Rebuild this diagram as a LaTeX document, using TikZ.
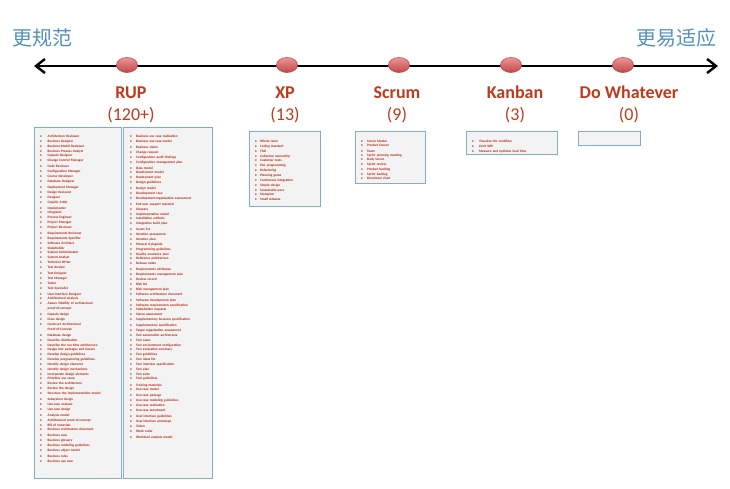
\documentclass[tikz,border=0pt]{standalone}
\usepackage{fontspec}
\setmainfont{Carlito}
\newfontfamily\cjk{Noto Sans CJK SC}
\usetikzlibrary{arrows.meta,shapes.geometric}
\definecolor{lblred}{RGB}{190,58,26}
\definecolor{listred}{RGB}{178,36,16}
\definecolor{cjkblue}{RGB}{84,144,186}
\definecolor{boxedge}{RGB}{128,174,200}
\definecolor{boxfill}{RGB}{243,243,243}
\definecolor{ellTop}{RGB}{238,150,150}
\definecolor{ellBot}{RGB}{196,68,68}
\definecolor{ellEdge}{RGB}{178,80,80}
\newlength\bsep
\setlength\bsep{7pt}
\newcommand\li[1]{\par\hangindent=\bsep\hangafter=1\noindent\makebox[\bsep][l]{\textbullet}#1}
\newcommand\gp{\par\vspace{1.2pt}}
\tikzset{
  stage/.style={ellipse, minimum width=21, minimum height=15, inner sep=0,
    top color=ellTop, bottom color=ellBot, draw=ellEdge, line width=0.6},
  mname/.style={anchor=base, inner sep=0, text=lblred, font=\fontsize{18}{20}\selectfont\bfseries},
  mcount/.style={anchor=base, inner sep=0, text=lblred, font=\fontsize{18}{20}\selectfont},
  listbox/.style={draw=boxedge, fill=boxfill, line width=1.3, anchor=north west, inner sep=0},
  listtext/.style={anchor=north west, inner sep=0, text=listred, font=\fontsize{3.4}{4.85}\selectfont\bfseries},
  pole/.style={inner sep=0, text=cjkblue, font=\fontsize{20}{24}\selectfont\cjk},
  axis/.style={line width=2.4, {Straight Barb[length=9, width=14]}-{Straight Barb[length=9, width=14]}}
}
\begin{document}
\begin{tikzpicture}[x=1pt, y=-1pt]
\useasboundingbox (0,0) rectangle (730,488);

% poles
\node[pole, anchor=base west] (more) at (12,45.5) {更规范};
\node[pole, anchor=base east] (less) at (717,45.5) {更易适应};

% axis
\coordinate (L) at (34,66);
\coordinate (R) at (718,66);
\draw[axis] (L) -- (R);

% stages
\node[stage] (e1) at (127,65) {};
\node[stage] (e2) at (287,65) {};
\node[stage] (e3) at (399,65) {};
\node[stage] (e4) at (511,65) {};
\node[stage] (e5) at (623,65) {};

% names and counts
\node[mname] (n1) at (131,98) {RUP};
\node[mcount] (c1) at (131,120) {(120+)};
\node[mname] (n2) at (285,98) {XP};
\node[mcount] (c2) at (285,120) {(13)};
\node[mname] (n3) at (397,98) {Scrum};
\node[mcount] (c3) at (397,120) {(9)};
\node[mname] (n4) at (515,98) {Kanban};
\node[mcount] (c4) at (515,120) {(3)};
\node[mname] (n5) at (629,98) {Do Whatever};
\node[mcount] (c5) at (629,120) {(0)};

% boxes
\node[listbox, minimum width=87, minimum height=351] (rupA) at (34,127) {};
\node[listbox, minimum width=89, minimum height=351] (rupB) at (123,127) {};
\node[listbox, minimum width=71, minimum height=75] (xpbox) at (249,131) {};
\node[listbox, minimum width=70, minimum height=52] (scbox) at (355,131) {};
\node[listbox, minimum width=91, minimum height=23] (kbbox) at (466,131) {};
\node[listbox, minimum width=62, minimum height=14] (dwbox) at (578,131) {};

% RUP left column
\node[listtext, text width=64] (rupAt) at (40,132.5) {\raggedright\setlength\bsep{7.5pt}%
\li{Architecture Reviewer}
\li{Business Designer}
\li{Business-Model Reviewer}
\li{Business Process Analyst}
\li{Capsule Designer}
\li{Change Control Manager}\gp
\li{Code Reviewer}
\li{Configuration Manager}
\li{Course Developer}
\li{Database Designer}\gp
\li{Deployment Manager}
\li{Design Reviewer}
\li{Designer}
\li{Graphic Artist}\gp
\li{Implementer}
\li{Integrator}
\li{Process Engineer}
\li{Project Manager}
\li{Project Reviewer}\gp
\li{Requirements Reviewer}
\li{Requirements Specifier}
\li{Software Architect}
\li{Stakeholder}
\li{System Administrator}
\li{System Analyst}
\li{Technical Writer}
\li{Test Analyst}\gp
\li{Test Designer}
\li{Test Manager}
\li{Tester}
\li{Tool Specialist}\gp
\li{User-Interface Designer}
\li{Architectural analysis}
\li{Assess Viability of architectural proof-of-concept}\gp
\li{Capsule design}
\li{Class design}
\li{Construct Architectural Proof-of-Concept}\gp
\li{Database design}
\li{Describe distribution}
\li{Describe the run-time architecture}
\li{Design test packages and classes}
\li{Develop design guidelines}
\li{Develop programming guidelines}
\li{Identify design elements}
\li{Identify design mechanisms}
\li{Incorporate design elements}
\li{Prioritize use cases}
\li{Review the architecture}
\li{Review the design}
\li{Structure the implementation model}\gp
\li{Subsystem design}
\li{Use-case analysis}
\li{Use-case design}\gp
\li{Analysis model}
\li{Architectural proof-of-concept}
\li{Bill of materials}
\li{Business architecture document}\gp
\li{Business case}
\li{Business glossary}
\li{Business modeling guidelines}
\li{Business object model}\gp
\li{Business rules}
\li{Business use case}\par};

% RUP right column
\node[listtext, text width=63] (rupBt) at (130,132.5) {\raggedright\setlength\bsep{6pt}%
\li{Business use case realization}
\li{Business use-case model}\gp
\li{Business vision}
\li{Change request}
\li{Configuration audit findings}
\li{Configuration management plan}\gp
\li{Data model}
\li{Deployment model}
\li{Deployment plan}
\li{Design guidelines}\gp
\li{Design model}
\li{Development case}
\li{Development-organization assessment}\gp
\li{End-user support material}
\li{Glossary}
\li{Implementation model}
\li{Installation artifacts}
\li{Integration build plan}\gp
\li{Issues list}
\li{Iteration assessment}
\li{Iteration plan}
\li{Manual styleguide}
\li{Programming guidelines}
\li{Quality assurance plan}
\li{Reference architecture}
\li{Release notes}\gp
\li{Requirements attributes}
\li{Requirements management plan}
\li{Review record}
\li{Risk list}
\li{Risk management plan}
\li{Software architecture document}\gp
\li{Software development plan}
\li{Software requirements specification}
\li{Stakeholder requests}
\li{Status assessment}
\li{Supplementary business specification}\gp
\li{Supplementary specification}
\li{Target organization assessment}
\li{Test automation architecture}
\li{Test cases}
\li{Test environment configuration}
\li{Test evaluation summary}
\li{Test guidelines}
\li{Test ideas list}
\li{Test interface specification}
\li{Test plan}
\li{Test suite}
\li{Tool guidelines}\gp
\li{Training materials}
\li{Use-case model}\gp
\li{Use-case package}
\li{Use-case modeling guidelines}
\li{Use-case realization}
\li{Use-case storyboard}\gp
\li{User-interface guidelines}
\li{User-interface prototype}
\li{Vision}
\li{Work order}\gp
\li{Workload analysis model}\par};

% XP
\node[listtext, text width=60] (xpt) at (255,137.5) {\raggedright\setlength\bsep{5pt}%
\li{Whole team}
\li{Coding standard}
\li{TDD}
\li{Collective ownership}
\li{Customer tests}
\li{Pair programming}
\li{Refactoring}
\li{Planning game}
\li{Continuous integration}
\li{Simple design}
\li{Sustainable pace}
\li{Metaphor}
\li{Small releases}\par};

% Scrum
\node[listtext, text width=60, font=\fontsize{3.4}{4.4}\selectfont\bfseries] (sct) at (361,137.5) {\raggedright\setlength\bsep{6pt}%
\li{Scrum Master}
\li{Product Owner}\gp
\li{Team}
\li{Sprint planning meeting}
\li{Daily Scrum}
\li{Sprint review}\gp
\li{Product backlog}
\li{Sprint backlog}
\li{Burndown chart}\par};

% Kanban
\node[listtext, text width=80] (kbt) at (472,137.5) {\raggedright\setlength\bsep{7pt}%
\li{Visualize the workflow}
\li{Limit WIP}
\li{Measure and optimize lead time}\par};
\end{tikzpicture}
\end{document}
